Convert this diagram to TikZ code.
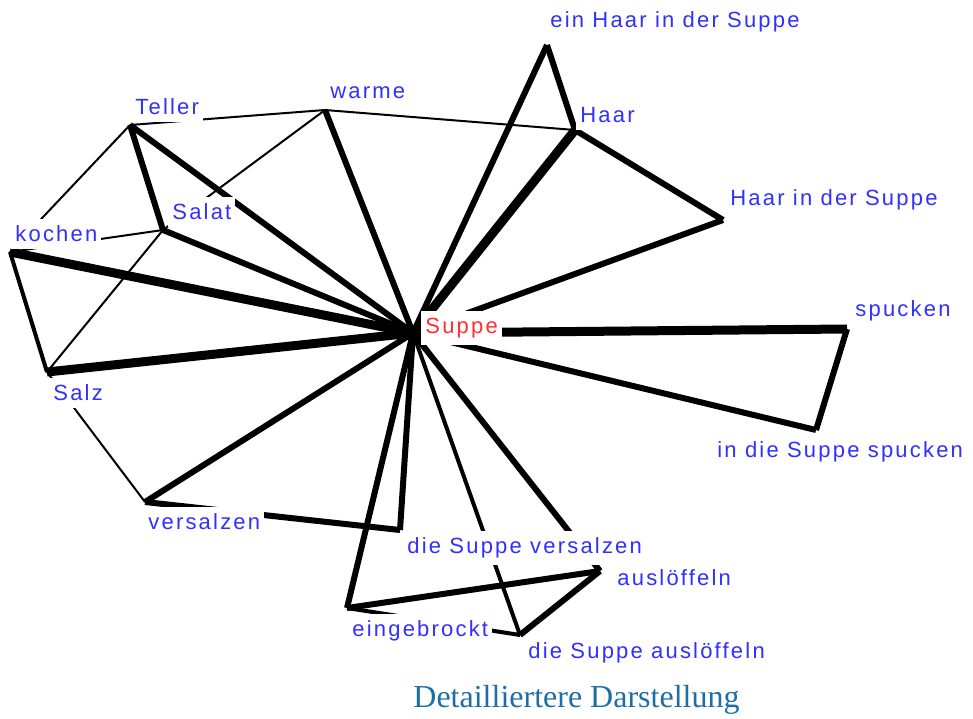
\documentclass[tikz,border=0pt]{standalone}
\usepackage{fontspec}
\newfontfamily\lblfont[LetterSpace=10]{Liberation Sans}
\newfontfamily\capfont{Liberation Serif}
\definecolor{lblblue}{RGB}{48,48,255}
\definecolor{lblred}{RGB}{255,48,48}
\definecolor{capblue}{RGB}{28,110,164}
\begin{document}
\begin{tikzpicture}[
        x=0.5pt, y=-0.5pt,
        word/.style={anchor=west, fill=white, inner xsep=2pt, inner ysep=3.5pt, text=lblblue, font=\lblfont\fontsize{11}{13}\selectfont},
        hub/.style={word, text=lblred},
        weak/.style={line width=1pt},
        mid/.style={line width=2pt},
        strong/.style={line width=3pt},
        heavy/.style={line width=4.5pt}
    ]
    \useasboundingbox (0,0) rectangle (973,718);
    % word positions
    \coordinate (suppe) at (413,333);
    \coordinate (teller) at (130,125);
    \coordinate (warme) at (325,110);
    \coordinate (salat) at (163,230);
    \coordinate (kochen) at (10,252);
    \coordinate (salz) at (47,372);
    \coordinate (versalzen) at (145,502);
    \coordinate (dsv) at (400,530);
    \coordinate (einge) at (347,608);
    \coordinate (dsa) at (520,635);
    \coordinate (ausl) at (600,571);
    \coordinate (einhaar) at (547,45);
    \coordinate (haar) at (575,130);
    \coordinate (hids) at (723,220);
    \coordinate (spucken) at (847,329);
    \coordinate (idss) at (816,430);
    % links
    \foreach \a/\b in {teller/kochen, teller/warme, warme/salat, warme/haar, salat/kochen, salat/salz, salz/versalzen}
        \draw[weak] (\a) -- (\b);
    \foreach \a/\b in {kochen/salz, suppe/dsa, einge/dsa}
        \draw[mid] (\a) -- (\b);
    \foreach \a/\b in {teller/salat, teller/suppe, warme/suppe, salat/suppe, versalzen/suppe, versalzen/dsv,
        suppe/dsv, suppe/einge, suppe/ausl, einge/ausl, dsa/ausl, suppe/einhaar, einhaar/haar,
        haar/hids, hids/suppe, spucken/idss, idss/suppe}
        \draw[strong] (\a) -- (\b);
    \foreach \a/\b in {kochen/suppe, salz/suppe, suppe/haar, suppe/spucken}
        \draw[heavy] (\a) -- (\b);
    % labels
    \node[hub] (suppe-l) at (421,328) {Suppe};
    \node[word] (teller-l) at (131,107) {Teller};
    \node[word] (warme-l) at (326,93) {warme};
    \node[word] (salat-l) at (168,212) {Salat};
    \node[word] (kochen-l) at (11,234) {kochen};
    \node[word] (salz-l) at (49,393) {Salz};
    \node[word] (versalzen-l) at (144,522) {versalzen};
    \node[word] (dsv-l) at (403,548) {die Suppe versalzen};
    \node[word] (einge-l) at (348,631) {eingebrockt};
    \node[word] (dsa-l) at (524,653) {die Suppe auslöffeln};
    \node[word] (ausl-l) at (613,578) {auslöffeln};
    \node[word] (einhaar-l) at (546,22) {ein Haar in der Suppe};
    \node[word] (haar-l) at (576,115) {Haar};
    \node[word] (hids-l) at (726,200) {Haar in der Suppe};
    \node[word] (spucken-l) at (851,311) {spucken};
    \node[word] (idss-l) at (713,452) {in die Suppe spucken};
    \node[anchor=west, inner sep=0pt, text=capblue, font=\capfont\fontsize{16}{18}\selectfont] (caption) at (413,700) {Detailliertere Darstellung};
\end{tikzpicture}
\end{document}
